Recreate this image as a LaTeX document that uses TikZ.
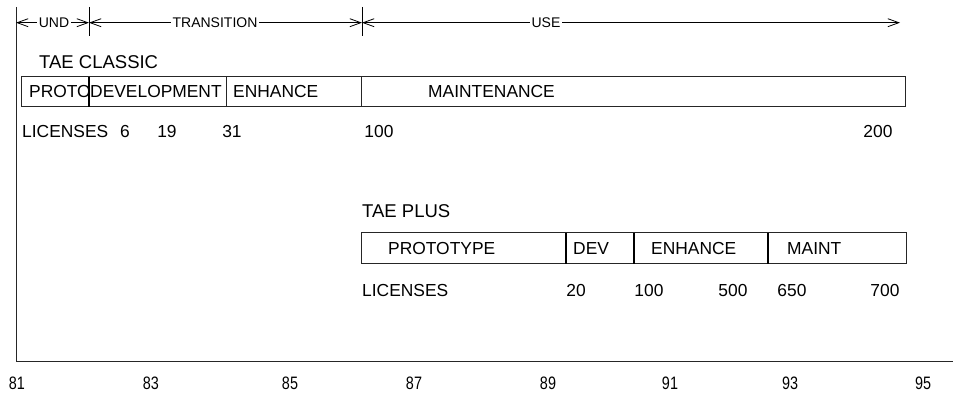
\documentclass[tikz,border=0pt]{standalone}
\usepackage{fontspec}
\setmainfont{Liberation Sans}
\usetikzlibrary{arrows.meta}
\tikzset{
  frame/.style={line width=1pt, draw=black!85},
  divider/.style={line width=1.6pt},
  spanarrow/.style={line width=0.8pt, {Straight Barb[length=11pt,width=8pt]}-{Straight Barb[length=11pt,width=8pt]}},
  toplabel/.style={font=\fontsize{14}{16}\selectfont, fill=white, inner sep=2pt, anchor=base},
  big/.style={font=\fontsize{18.5}{21}\selectfont, inner sep=0pt, anchor=base west},
  txt/.style={font=\fontsize{17.4}{20}\selectfont, inner sep=0pt, anchor=base west},
  num/.style={font=\fontsize{17.4}{20}\selectfont, inner sep=0pt, anchor=base},
  axis/.style={font=\fontsize{18}{20}\selectfont, inner sep=0pt, anchor=base, xscale=0.8},
}
\begin{document}
\begin{tikzpicture}[x=1pt,y=-1pt]
\useasboundingbox (0,0) rectangle (953,393);
% frame lines
\coordinate (top) at (16,7);
\coordinate (corner) at (16,361);
\coordinate (right) at (953,361);
\draw[frame] (top) -- (corner) -- (right);
% ticks
\coordinate (t1a) at (89,7); \coordinate (t1b) at (89,36);
\coordinate (t2a) at (362,7); \coordinate (t2b) at (362,36);
\draw[line width=0.8pt] (t1a) -- (t1b);
\draw[line width=0.8pt] (t2a) -- (t2b);
% phase arrows
\coordinate (p0) at (16,22.7);
\coordinate (p1) at (89,22.7);
\coordinate (p2) at (362,22.7);
\coordinate (p3) at (900,22.7);
\draw[spanarrow] (p0) -- (p1);
\draw[spanarrow] (p1) -- (p2);
\draw[spanarrow] (p2) -- (p3);
\node[toplabel] (und) at (54,27.7) {UND};
\node[toplabel] (trans) at (215,27.7) {TRANSITION};
\node[toplabel] (use) at (546,27.7) {USE};
% TAE CLASSIC
\node[big] (classic) at (39,68.5) {TAE CLASSIC};
\draw[frame] (21,77) rectangle (905,107);
\draw[divider] (89,77) -- (89,107);
\draw[frame] (226,77) -- (226,107);
\draw[frame] (361,77) -- (361,107);
\node[txt] (cproto) at (29,98) {PROTO};
\node[txt] (cdev) at (90,98) {DEVELOPMENT};
\node[txt] (cenh) at (233,98) {ENHANCE};
\node[txt] (cmaint) at (428,98) {MAINTENANCE};
\node[txt] (clic) at (22,138) {LICENSES};
\node[num] (c6) at (125,138) {6};
\node[num] (c19) at (167,138) {19};
\node[num] (c31) at (232,138) {31};
\node[num] (c100) at (379,138) {100};
\node[num] (c200) at (878,138) {200};
% TAE PLUS
\node[big] (plus) at (362,217) {TAE PLUS};
\draw[frame] (361,232.5) rectangle (906,263.5);
\draw[divider] (566,232.5) -- (566,263.5);
\draw[divider] (634,232.5) -- (634,263.5);
\draw[divider] (768,232.5) -- (768,263.5);
\node[txt] (pproto) at (388,254) {PROTOTYPE};
\node[txt] (pdev) at (573,254) {DEV};
\node[txt] (penh) at (651,254) {ENHANCE};
\node[txt] (pmaint) at (787,254) {MAINT};
\node[txt] (plic) at (362,296) {LICENSES};
\node[num] (p20) at (576,296) {20};
\node[num] (p100) at (649,296) {100};
\node[num] (p500) at (733,296) {500};
\node[num] (p650) at (792,296) {650};
\node[num] (p700) at (885,296) {700};
% axis years
\node[axis] (y81) at (17,389) {81};
\node[axis] (y83) at (151,389) {83};
\node[axis] (y85) at (290,389) {85};
\node[axis] (y87) at (414,389) {87};
\node[axis] (y89) at (548,389) {89};
\node[axis] (y91) at (670,389) {91};
\node[axis] (y93) at (790,389) {93};
\node[axis] (y95) at (923,389) {95};
\end{tikzpicture}
\end{document}
